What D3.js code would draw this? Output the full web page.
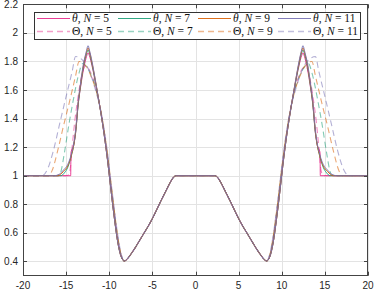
<!DOCTYPE html>
<html>
<head>
<meta charset="utf-8">
<script src="https://cdn.jsdelivr.net/npm/d3@7"></script>
<style>
  body { margin: 0; background: #fff; }
  svg { display: block; }
</style>
</head>
<body>
<script>
// shared central part (x >= 0), same for every series
var coreX = [0, 2.26, 2.6, 3, 3.5, 4, 4.5, 5, 5.5, 6, 6.5, 7, 7.5, 7.9, 8.25]
var coreY = [1, 1, 0.985, 0.945, 0.885, 0.825, 0.762, 0.70, 0.645, 0.595, 0.545, 0.495, 0.45, 0.418, 0.403]

// outer part (x > 8.25) for each series, right half; the figure is symmetric
var theta5 = [[8.6,0.43],[9,0.53],[9.4,0.7],[9.8,0.9],[10.2,1.11],[10.5,1.25],[11,1.45],[11.5,1.62],[12,1.77],[12.3,1.84],[12.45,1.86],[12.7,1.82],[13,1.74],[13.3,1.63],[13.6,1.5],[13.9,1.3],[14.1,1.22],[14.44,1.16],[14.47,1.0],[20,1]]
var theta7 = [[8.6,0.43],[9,0.53],[9.4,0.7],[9.8,0.9],[10.2,1.11],[10.5,1.25],[11,1.45],[11.5,1.62],[12,1.78],[12.3,1.86],[12.45,1.88],[12.7,1.84],[13,1.76],[13.3,1.64],[13.6,1.5],[13.9,1.3],[14.1,1.22],[14.4,1.14],[14.8,1.06],[15.2,1.02],[15.6,1.0],[20,1]]
var theta9 = [[8.6,0.43],[9,0.53],[9.4,0.7],[9.8,0.9],[10.2,1.11],[10.5,1.25],[11,1.45],[11.5,1.63],[12,1.79],[12.3,1.87],[12.45,1.895],[12.7,1.85],[13,1.77],[13.3,1.65],[13.6,1.51],[13.9,1.31],[14.1,1.22],[14.4,1.14],[14.8,1.07],[15.3,1.03],[16,1.0],[20,1]]
var theta11 = [[8.6,0.43],[9,0.53],[9.4,0.7],[9.8,0.9],[10.2,1.11],[10.5,1.25],[11,1.45],[11.5,1.63],[12,1.8],[12.3,1.88],[12.45,1.91],[12.7,1.86],[13,1.78],[13.3,1.66],[13.6,1.52],[13.9,1.32],[14.1,1.23],[14.4,1.15],[14.8,1.08],[15.3,1.04],[15.8,1.01],[16.4,1.0],[20,1]]
var Theta5 = [[8.6,0.44],[9,0.56],[9.4,0.74],[9.8,0.94],[10.2,1.14],[10.5,1.27],[11,1.46],[11.5,1.6],[12,1.7],[12.4,1.75],[12.8,1.765],[13.2,1.7],[13.6,1.56],[14,1.38],[14.3,1.2],[14.5,1.06],[14.7,1.01],[14.9,1.0],[20,1]]
var Theta7 = [[8.6,0.44],[9,0.56],[9.4,0.74],[9.8,0.94],[10.2,1.14],[10.5,1.27],[11,1.46],[11.5,1.6],[12,1.69],[12.5,1.75],[13.1,1.785],[13.5,1.72],[14.2,1.52],[14.7,1.35],[15.2,1.16],[15.6,1.03],[15.9,1.0],[20,1]]
var Theta9 = [[8.6,0.44],[9,0.57],[9.4,0.75],[9.8,0.95],[10.2,1.15],[10.5,1.28],[11,1.46],[11.5,1.59],[12,1.68],[12.6,1.76],[13.2,1.795],[13.5,1.80],[13.9,1.7],[14.6,1.52],[15.3,1.35],[16,1.17],[16.6,1.04],[17,1.0],[20,1]]
var Theta11 = [[8.6,0.45],[9,0.58],[9.4,0.76],[9.8,0.96],[10.2,1.16],[10.5,1.29],[11,1.46],[11.5,1.58],[12,1.68],[12.6,1.77],[13.3,1.82],[13.9,1.835],[14.3,1.73],[15.1,1.53],[15.8,1.35],[16.5,1.17],[17.2,1.04],[17.8,1.0],[20,1]]

var labels = ["θ|5", "θ|7", "θ|9", "θ|11", "Θ|5", "Θ|7", "Θ|9", "Θ|11"]
var colors = ["#e7298a", "#1b9e77", "#d95f02", "#7570b3", "#e7298a", "#1b9e77", "#d95f02", "#7570b3"]
var outers = [theta5, theta7, theta9, theta11, Theta5, Theta7, Theta9, Theta11]

var xTicks = [-20, -15, -10, -5, 0, 5, 10, 15, 20]
var yTicks = [0.4, 0.6, 0.8, 1, 1.2, 1.4, 1.6, 1.8, 2, 2.2]

var screen = {width: 374, height: 290}
var plot = {left: 23, right: 368, top: 4.3, bottom: 275.7}

var x = d3.scaleLinear().domain([-20, 20]).range([plot.left, plot.right])
var y = d3.scaleLinear().domain([0.3, 2.2]).range([plot.bottom, plot.top])

var svg = d3.select("body")
            .append("svg")
            .attr("width", screen.width)
            .attr("height", screen.height)

svg.append("clipPath").attr("id", "clip")
   .append("rect")
   .attr("x", plot.left).attr("y", plot.top)
   .attr("width", plot.right - plot.left).attr("height", plot.bottom - plot.top)

// grid
var grid = svg.append("g").attr("stroke", "#e3e3e3").attr("stroke-width", 1)
grid.selectAll("line.gx").data(xTicks).enter().append("line")
    .attr("x1", function(d) {return Math.round(x(d)) + 0.5})
    .attr("x2", function(d) {return Math.round(x(d)) + 0.5})
    .attr("y1", plot.top).attr("y2", plot.bottom)
grid.selectAll("line.gy").data(yTicks).enter().append("line")
    .attr("y1", function(d) {return Math.round(y(d)) + 0.5})
    .attr("y2", function(d) {return Math.round(y(d)) + 0.5})
    .attr("x1", plot.left).attr("x2", plot.right)

// build full curves (mirror of right half)
var core = coreX.map(function(v, i) {return [v, coreY[i]]})
var series = outers.map(function(outer, i) {
  var right = core.concat(outer)
  var left = right.slice(1).map(function(p) {return [-p[0], p[1]]}).reverse()
  return {pts: left.concat(right), color: colors[i], dashed: i >= 4}
})

var line = d3.line()
             .x(function(d) {return x(d[0])})
             .y(function(d) {return y(d[1])})
             .curve(d3.curveMonotoneX)

var curves = svg.append("g").attr("clip-path", "url(#clip)")
// dashed first, solid on top
var order = [4, 5, 6, 7, 0, 1, 2, 3]
order.forEach(function(i) {
  var s = series[i]
  curves.append("path")
        .attr("d", line(s.pts))
        .attr("fill", "none")
        .attr("stroke", s.color)
        .attr("stroke-width", s.dashed ? 1.1 : 1)
        .attr("stroke-opacity", s.dashed ? 0.55 : 0.9)
        .attr("stroke-dasharray", s.dashed ? "6,4" : null)
})

// axes box with inward ticks
var axisColor = "#444"
var box = svg.append("g").attr("stroke", axisColor).attr("stroke-width", 1).attr("fill", "none")
box.append("rect")
   .attr("x", plot.left + 0.5).attr("y", Math.round(plot.top) + 0.5)
   .attr("width", plot.right - plot.left - 1).attr("height", Math.round(plot.bottom) - Math.round(plot.top) - 1)
xTicks.forEach(function(t) {
  var px = Math.round(x(t)) + 0.5
  box.append("line").attr("x1", px).attr("x2", px).attr("y1", plot.bottom).attr("y2", plot.bottom - 4)
  box.append("line").attr("x1", px).attr("x2", px).attr("y1", plot.top).attr("y2", plot.top + 4)
})
yTicks.forEach(function(t) {
  var py = Math.round(y(t)) + 0.5
  box.append("line").attr("y1", py).attr("y2", py).attr("x1", plot.left).attr("x2", plot.left + 4)
  box.append("line").attr("y1", py).attr("y2", py).attr("x1", plot.right).attr("x2", plot.right - 4)
})

// tick labels
svg.append("g").selectAll("text").data(xTicks).enter().append("text")
   .attr("x", function(d) {return x(d)})
   .attr("y", 289)
   .attr("text-anchor", "middle")
   .attr("font-family", "Liberation Sans, Arial, sans-serif")
   .attr("font-size", 10)
   .attr("fill", "#262626")
   .text(function(d) {return d})
svg.append("g").selectAll("text").data(yTicks).enter().append("text")
   .attr("x", 18)
   .attr("y", function(d) {return y(d) + 3.5})
   .attr("text-anchor", "end")
   .attr("font-family", "Liberation Sans, Arial, sans-serif")
   .attr("font-size", 10)
   .attr("fill", "#262626")
   .text(function(d) {return d})

// legend
var legend = svg.append("g")
legend.append("rect")
      .attr("x", 34.5).attr("y", 12.5).attr("width", 326).attr("height", 27)
      .attr("fill", "#fff").attr("stroke", "#333").attr("stroke-width", 1)
var colX = [37, 118, 198, 278]
var rowY = [18.5, 31.5]
labels.forEach(function(lab, i) {
  var cx = colX[i % 4], cy = rowY[Math.floor(i / 4)]
  var s = series[i]
  legend.append("line")
        .attr("x1", cx).attr("x2", cx + 33).attr("y1", cy).attr("y2", cy)
        .attr("stroke", s.color).attr("stroke-width", s.dashed ? 1.3 : 1)
        .attr("stroke-opacity", s.dashed ? 0.45 : 0.9)
        .attr("stroke-dasharray", s.dashed ? "6,4" : null)
  var parts = lab.split("|")
  var t = legend.append("text")
        .attr("x", cx + 35).attr("y", cy + 3.5)
        .attr("font-family", "Liberation Serif, DejaVu Serif, serif")
        .attr("font-size", 11.5)
        .attr("fill", "#111")
  t.append("tspan").attr("font-style", parts[0] == "θ" ? "italic" : "normal").text(parts[0])
  t.append("tspan").text(", ")
  t.append("tspan").attr("font-style", "italic").text("N")
  t.append("tspan").text(" = " + parts[1])
})
</script>
</body>
</html>
